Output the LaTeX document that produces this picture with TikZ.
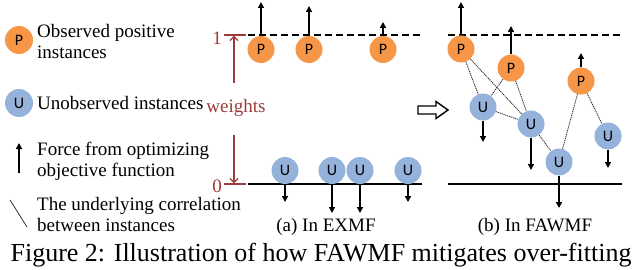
\documentclass[tikz,border=0pt]{standalone}
\usepackage{fontspec}
\setmainfont{Liberation Serif}
\newfontfamily\nodefont{Carlito}
\usetikzlibrary{arrows.meta}
\definecolor{porange}{RGB}{247,150,70}
\definecolor{ublue}{RGB}{149,179,218}
\definecolor{wred}{RGB}{155,60,58}
\begin{document}
\begin{tikzpicture}[x=1pt,y=-1pt,
  inst/.style={circle,minimum size=27pt,inner sep=0pt,font=\nodefont\fontsize{16}{16}\selectfont},
  pnode/.style={inst,fill=porange},
  unode/.style={inst,fill=ublue},
  force/.style={-{Triangle[length=6pt,width=6pt]},line width=1.5pt},
  corr/.style={line width=0.8pt,draw=black!85,dash pattern=on 1.2pt off 0.8pt},
  lbl/.style={font=\fontsize{19}{21}\selectfont,align=left,anchor=west,inner sep=0pt},
  sub/.style={font=\fontsize{19}{21}\selectfont,inner sep=0pt},
  wlbl/.style={font=\fontsize{19}{21}\selectfont,text=wred,inner sep=0pt},
  wline/.style={draw=wred,line width=1.2pt},
  warrow/.style={wline,-{Straight Barb[length=4pt,width=8pt]}},
  level/.style={line width=1.4pt},
  dashlevel/.style={level,dash pattern=on 7pt off 4pt}]
\useasboundingbox (0,0) rectangle (640,270);

% ---------- legend ----------
\node[pnode,minimum size=28pt] (lp) at (19,40) {P};
\node[lbl] (lpt) at (37,42) {Observed positive\\instances};
\node[unode,minimum size=28pt] (lu) at (19,103) {U};
\node[lbl] (lut) at (37,103) {Unobserved instances};
\coordinate (lfa) at (19,173);
\coordinate (lfb) at (19,143);
\draw[force] (lfa) -- (lfb);
\node[lbl] (lft) at (37,161) {Force from optimizing\\objective function};
\coordinate (lca) at (10,200);
\coordinate (lcb) at (27,227);
\draw[line width=0.8pt,draw=black!80] (lca) -- (lcb);
\node[lbl] (lct) at (37,214.5) {The underlying correlation\\between instances};

% ---------- weights scale ----------
\coordinate (t1a) at (224,35);
\coordinate (t1b) at (246,35);
\coordinate (t0a) at (224,184);
\coordinate (t0b) at (246,184);
\draw[wline] (t1a) -- (t1b);
\draw[wline] (t0a) -- (t0b);
\node[wlbl] (one) at (217,38) {1};
\node[wlbl] (zero) at (217,186) {0};
\node[wlbl] (w) at (236,108) {weights};
\coordinate (wu) at (234,83);
\coordinate (wd) at (234,135);
\draw[warrow] (wu) -- (234,35.7);
\draw[warrow] (wd) -- (234,183.3);

% ---------- (a) In EXMF ----------
\coordinate (ad1) at (248,35);
\coordinate (ad2) at (422,35);
\coordinate (as1) at (248,184);
\coordinate (as2) at (422,184);
\draw[dashlevel] (ad1) -- (ad2);
\draw[level] (as1) -- (as2);
\node[pnode] (ap1) at (261,49.5) {P};
\node[pnode] (ap2) at (309,49.5) {P};
\node[pnode] (ap3) at (383,49.5) {P};
\coordinate (ap1f) at (261,2);
\coordinate (ap2f) at (309,6);
\coordinate (ap3f) at (383,22);
\draw[force] (ap1.north) -- (ap1f);
\draw[force] (ap2.north) -- (ap2f);
\draw[force] (ap3.north) -- (ap3f);
\node[unode] (au1) at (285,170.5) {U};
\node[unode] (au2) at (332,170.5) {U};
\node[unode] (au3) at (360,170.5) {U};
\node[unode] (au4) at (408,170.5) {U};
\coordinate (au1f) at (285,202);
\coordinate (au2f) at (332,213);
\coordinate (au3f) at (360,213);
\coordinate (au4f) at (408,202);
\draw[force] (au1.south) -- (au1f);
\draw[force] (au2.south) -- (au2f);
\draw[force] (au3.south) -- (au3f);
\draw[force] (au4.south) -- (au4f);
\node[sub] (suba) at (326,227) {(a) In EXMF};

% ---------- hollow arrow ----------
\draw[line width=1.4pt,line join=miter] (418,106) -- (436,106) -- (436,101.5) -- (448,110) -- (436,118.5) -- (436,114) -- (418,114) -- cycle;

% ---------- (b) In FAWMF ----------
\coordinate (bd1) at (448,35);
\coordinate (bd2) at (622,35);
\coordinate (bs1) at (448,184);
\coordinate (bs2) at (622,184);
\draw[dashlevel] (bd1) -- (bd2);
\draw[level] (bs1) -- (bs2);
\node[pnode] (bp1) at (461,49) {P};
\node[pnode] (bp2) at (511,68) {P};
\node[pnode] (bp3) at (581,81) {P};
\node[unode] (bu1) at (483,107) {U};
\node[unode] (bu2) at (531,124) {U};
\node[unode] (bu3) at (559,162) {U};
\node[unode] (bu4) at (608,136) {U};
\draw[corr] (bp1) -- (bu1);
\draw[corr] (bp1) -- (bu2);
\draw[corr] (bp2) -- (bu1);
\draw[corr] (bp2) -- (bu2);
\draw[corr] (bu1) -- (bu2);
\draw[corr] (bu2) -- (bu3);
\draw[corr] (bu3) -- (bp3);
\draw[corr] (bp3) -- (bu4);
\coordinate (bp1f) at (461,2);
\coordinate (bp2f) at (511,26);
\coordinate (bp3f) at (581,53);
\draw[force] (bp1.north) -- (bp1f);
\draw[force] (bp2.north) -- (bp2f);
\draw[force] (bp3.north) -- (bp3f);
\coordinate (bu1f) at (483,142);
\coordinate (bu2f) at (531,170);
\coordinate (bu3f) at (559,208);
\coordinate (bu4f) at (608,168);
\draw[force] (bu1.south) -- (bu1f);
\draw[force] (bu2.south) -- (bu2f);
\draw[force] (bu3.south) -- (bu3f);
\draw[force] (bu4.south) -- (bu4f);
\node[sub] (subb) at (535,227) {(b) In FAWMF};

% ---------- caption ----------
\node[inner sep=0pt,font=\fontsize{26}{28}\selectfont] (cap) at (321,255) {Figure 2: Illustration of how FAWMF mitigates over-fitting};
\end{tikzpicture}
\end{document}
